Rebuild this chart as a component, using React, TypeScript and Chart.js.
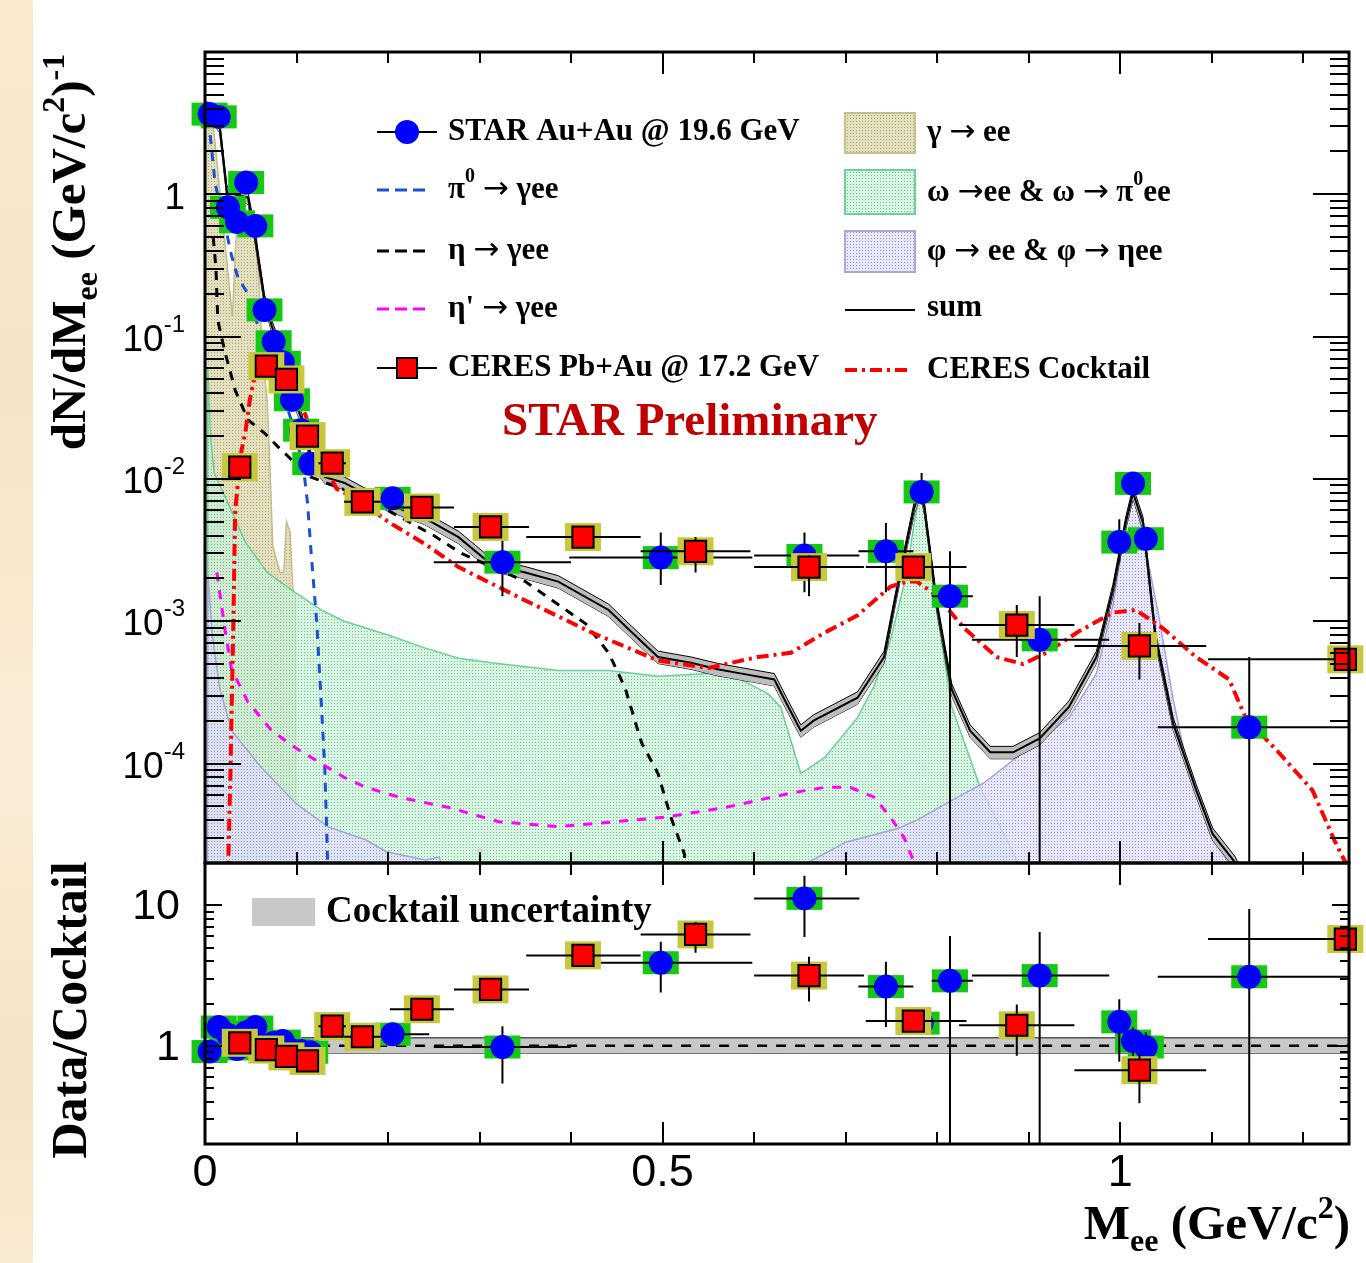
import { useEffect, useRef } from "react";
import { Chart, registerables } from "chart.js";

Chart.register(...registerables);

// ================= axis ranges =================
const massRange = [0, 1.25];
const yieldRange = [2e-5, 10];
const ratioRange = [0.2, 20];
const massTickLabels = [0, 0.5, 1];
const yieldTickExponents = [0, -1, -2, -3, -4];
const ratioTickLabels = [1, 10];

// ================= STAR Au+Au @ 19.6 GeV =================
const starMass = [0.005, 0.015, 0.025, 0.035, 0.045, 0.055, 0.065, 0.075, 0.085, 0.095, 0.105, 0.115, 0.205, 0.325, 0.498, 0.655, 0.744, 0.783, 0.814, 0.912, 0.999, 1.014, 1.028, 1.141];
const starMassErrLo = [0.005, 0.005, 0.005, 0.005, 0.005, 0.005, 0.005, 0.005, 0.005, 0.005, 0.005, 0.005, 0.04, 0.075, 0.1, 0.055, 0.03, 0.012, 0.02, 0.074, 0.007, 0.007, 0.007, 0.1];
const starMassErrHi = [0.005, 0.005, 0.005, 0.005, 0.005, 0.005, 0.005, 0.005, 0.005, 0.005, 0.005, 0.005, 0.04, 0.075, 0.1, 0.06, 0.03, 0.012, 0.025, 0.076, 0.007, 0.007, 0.007, 0.11];
const starYield = [3.66, 3.5, 0.81, 0.64, 1.21, 0.6, 0.154, 0.092, 0.066, 0.036, 0.022, 0.0128, 0.0073, 0.0026, 0.0028, 0.0029, 0.0031, 0.0081, 0.0015, 0.00074, 0.0036, 0.0093, 0.0038, 0.00018];
const starYieldLo = [3.3, 3.2, 0.74, 0.58, 1.1, 0.54, 0.14, 0.083, 0.059, 0.032, 0.0195, 0.0113, 0.0065, 0.0015, 0.0018, 0.0016, 0.0016, 0.0066, 0, 0, 0.0026, 0.0082, 0.0032, 0];
const starYieldHi = [4.0, 3.8, 0.88, 0.7, 1.32, 0.66, 0.17, 0.101, 0.073, 0.04, 0.0245, 0.0143, 0.0081, 0.0039, 0.0042, 0.0042, 0.0049, 0.011, 0.0031, 0.0015, 0.0052, 0.0105, 0.0045, 0.00056];
const starRatio = [0.91, 1.36, 1.2, 0.95, 1.25, 1.36, 1.0, 1.05, 1.08, 0.93, 0.92, 0.9, 1.21, 0.98, 3.9, 11.2, 2.64, 1.45, 2.9, 3.16, 1.48, 1.08, 0.98, 3.1];
const starRatioLo = [0.82, 1.22, 1.08, 0.86, 1.12, 1.22, 0.9, 0.95, 0.97, 0.84, 0.83, 0.81, 1.1, 0.54, 2.4, 5.95, 1.36, 1.2, 0, 0, 0.77, 0.85, 0.8, 0];
const starRatioHi = [1.0, 1.5, 1.32, 1.05, 1.38, 1.5, 1.1, 1.15, 1.19, 1.02, 1.01, 0.99, 1.33, 1.38, 5.5, 16.2, 3.97, 1.7, 6.05, 6.45, 2.14, 1.35, 1.25, 9.4];

// ================= CERES Pb+Au @ 17.2 GeV =================
const ceresMass = [0.038, 0.067, 0.089, 0.112, 0.139, 0.172, 0.237, 0.312, 0.413, 0.536, 0.66, 0.774, 0.887, 1.021, 1.246];
const ceresMassErrLo = [0.012, 0.01, 0.01, 0.01, 0.015, 0.02, 0.035, 0.04, 0.062, 0.06, 0.06, 0.052, 0.063, 0.071, 0.15];
const ceresMassErrHi = [0.012, 0.01, 0.01, 0.01, 0.015, 0.02, 0.035, 0.042, 0.063, 0.06, 0.06, 0.058, 0.063, 0.073, 0.15];
const ceresYield = [0.0121, 0.062, 0.05, 0.02, 0.0129, 0.0069, 0.0063, 0.0046, 0.0039, 0.0031, 0.0024, 0.0024, 0.00094, 0.00067, 0.00054];
const ceresYieldLo = [0.0105, 0.056, 0.045, 0.018, 0.0116, 0.0062, 0.0057, 0.0041, 0.0035, 0.0022, 0.0015, 0.0021, 0.00056, 0.00039, 0.00047];
const ceresYieldHi = [0.0137, 0.068, 0.055, 0.022, 0.0142, 0.0076, 0.0069, 0.0051, 0.0043, 0.0039, 0.0029, 0.0027, 0.0013, 0.00097, 0.00061];
const ceresRatio = [1.05, 0.94, 0.84, 0.78, 1.38, 1.16, 1.82, 2.52, 4.4, 6.2, 3.16, 1.5, 1.4, 0.67, 5.75];
const ceresRatioLo = [0.96, 0.86, 0.76, 0.71, 1.25, 1.05, 1.62, 2.3, 4.05, 4.6, 2.07, 1.3, 0.85, 0.39, 5.2];
const ceresRatioHi = [1.14, 1.02, 0.92, 0.85, 1.51, 1.27, 2.05, 2.75, 4.8, 7.6, 4.3, 1.75, 1.97, 0.87, 6.3];

// ================= cocktail components =================
const gammaMass = [0.0, 0.008, 0.011, 0.02, 0.03, 0.033, 0.036, 0.05, 0.056, 0.06, 0.063, 0.068, 0.071, 0.074, 0.082, 0.086, 0.089, 0.093, 0.096, 0.099, 0.1];
const gammaYield = [3.6, 3.4, 2.3, 0.6, 0.138, 0.4, 0.72, 0.72, 0.55, 0.18, 0.069, 0.036, 0.012, 0.0034, 0.0022, 0.0022, 0.005, 0.0042, 0.0017, 0.0015, 1e-6];

const omegaMass = [0.002, 0.003, 0.006, 0.01, 0.022, 0.044, 0.068, 0.098, 0.127, 0.152, 0.2, 0.24, 0.277, 0.313, 0.386, 0.441, 0.495, 0.55, 0.585, 0.615, 0.629, 0.651, 0.677, 0.713, 0.731, 0.749, 0.767, 0.775, 0.782, 0.79, 0.797, 0.816, 0.847, 0.875, 0.898, 0.905];
const omegaYield = [1e-6, 0.06, 0.02, 0.011, 0.0075, 0.0036, 0.0022, 0.0016, 0.0012, 0.001, 0.0008, 0.00065, 0.00055, 0.00051, 0.00045, 0.00045, 0.00041, 0.00043, 0.00039, 0.00031, 0.00025, 0.000085, 0.00011, 0.00021, 0.00035, 0.00074, 0.0022, 0.005, 0.0084, 0.004, 0.0015, 0.00025, 0.000068, 0.00003, 0.000015, 1e-6];

const phiMass = [0.002, 0.003, 0.008, 0.016, 0.029, 0.062, 0.1, 0.134, 0.176, 0.198, 0.241, 0.256, 0.265, 0.3, 0.64, 0.658, 0.7, 0.757, 0.778, 0.818, 0.851, 0.901, 0.944, 0.974, 0.992, 1.004, 1.014, 1.025, 1.042, 1.058, 1.075, 1.1, 1.119, 1.13];
const phiYield = [1e-6, 0.0022, 0.0008, 0.00034, 0.00017, 0.000093, 0.000052, 0.000036, 0.000029, 0.000024, 0.000021, 0.000022, 0.000012, 1e-6, 1e-6, 0.00002, 0.000028, 0.000035, 0.00004, 0.000056, 0.000073, 0.00013, 0.00021, 0.00043, 0.0013, 0.004, 0.0084, 0.004, 0.0011, 0.00028, 0.000085, 0.00003, 0.00002, 1e-6];

const pi0Mass = [0.002, 0.011, 0.022, 0.029, 0.036, 0.047, 0.054, 0.065, 0.08, 0.095, 0.105, 0.109, 0.112, 0.116, 0.122, 0.127, 0.131, 0.134, 0.135];
const pi0Yield = [4.5, 1.2, 0.6, 0.37, 0.26, 0.2, 0.14, 0.09, 0.05, 0.025, 0.014, 0.01, 0.0068, 0.003, 0.001, 0.00027, 0.00009, 0.00002, 1e-6];

const etaMass = [0.009, 0.012, 0.014, 0.022, 0.033, 0.047, 0.065, 0.079, 0.098, 0.116, 0.15, 0.2, 0.25, 0.28, 0.35, 0.416, 0.441, 0.459, 0.477, 0.495, 0.509, 0.524, 0.535];
const etaYield = [0.5, 0.3, 0.13, 0.077, 0.042, 0.026, 0.021, 0.017, 0.013, 0.0103, 0.0085, 0.006, 0.004, 0.003, 0.0019, 0.00096, 0.0006, 0.00034, 0.00014, 0.000085, 0.000042, 0.000023, 1e-6];

const etapMass = [0.013, 0.022, 0.029, 0.047, 0.073, 0.098, 0.127, 0.152, 0.176, 0.212, 0.267, 0.321, 0.386, 0.448, 0.503, 0.568, 0.64, 0.677, 0.705, 0.731, 0.749, 0.764, 0.775, 0.78];
const etapYield = [0.0022, 0.00086, 0.00046, 0.00027, 0.00017, 0.00013, 0.0001, 0.00008, 0.000068, 0.000058, 0.000049, 0.000039, 0.000036, 0.000039, 0.000042, 0.000049, 0.000062, 0.000068, 0.000068, 0.000058, 0.000042, 0.00003, 0.00002, 1e-6];

const sumMass = [0.005, 0.016, 0.024, 0.047, 0.054, 0.065, 0.073, 0.084, 0.095, 0.106, 0.116, 0.131, 0.152, 0.172, 0.2, 0.24, 0.277, 0.313, 0.35, 0.386, 0.441, 0.466, 0.495, 0.531, 0.56, 0.585, 0.622, 0.636, 0.651, 0.665, 0.713, 0.742, 0.76, 0.775, 0.782, 0.786, 0.8, 0.816, 0.836, 0.858, 0.883, 0.912, 0.944, 0.974, 0.992, 1.006, 1.014, 1.025, 1.039, 1.058, 1.083, 1.101, 1.126, 1.14];
const sumYield = [3.8, 3.0, 1.03, 0.95, 0.54, 0.18, 0.118, 0.077, 0.04, 0.026, 0.0137, 0.0103, 0.0094, 0.008, 0.0066, 0.0053, 0.0039, 0.0025, 0.0022, 0.0019, 0.0012, 0.00084, 0.00056, 0.00051, 0.00046, 0.00043, 0.00039, 0.00026, 0.00017, 0.0002, 0.00029, 0.00056, 0.0022, 0.0063, 0.0085, 0.0063, 0.00125, 0.00033, 0.00017, 0.00012, 0.00012, 0.00015, 0.00025, 0.00056, 0.00165, 0.0049, 0.008, 0.0049, 0.00074, 0.00019, 0.000065, 0.000032, 0.00002, 0.000012];
const sumRelUncertainty = 0.1;

const ceresCocktailMass = [0.025, 0.028, 0.031, 0.033, 0.036, 0.04, 0.044, 0.049, 0.054, 0.06, 0.07, 0.084, 0.095, 0.103, 0.11, 0.123, 0.138, 0.144, 0.17, 0.2, 0.24, 0.277, 0.35, 0.423, 0.495, 0.55, 0.604, 0.64, 0.677, 0.713, 0.749, 0.767, 0.778, 0.8, 0.829, 0.865, 0.894, 0.919, 0.955, 0.992, 1.017, 1.046, 1.083, 1.119, 1.137, 1.173, 1.21, 1.235, 1.25];
const ceresCocktailYield = [1.5e-5, 0.0001, 0.001, 0.006, 0.0094, 0.016, 0.021, 0.036, 0.052, 0.065, 0.072, 0.066, 0.045, 0.034, 0.028, 0.0137, 0.01, 0.0085, 0.007, 0.005, 0.0035, 0.0024, 0.0014, 0.00083, 0.00053, 0.00047, 0.00056, 0.0006, 0.00083, 0.0011, 0.00175, 0.0019, 0.0019, 0.0015, 0.0009, 0.00056, 0.0005, 0.0006, 0.00085, 0.00115, 0.0012, 0.0009, 0.00056, 0.00039, 0.00021, 0.00012, 0.000065, 0.000028, 0.000018];

// ratio panel: cocktail uncertainty band and unity reference
const ratioBandMass = [0.105, 0.68, 1.25];
const ratioBandHi = [1.14, 1.14, 1.14];
const ratioBandLo = [0.89, 0.885, 0.885];
const ratioRefMass = [0.105, 1.25];
const ratioRef = [1, 1];

// ================= styling / layout =================
const W = 1366;
const H = 1263;
const SERIF = '"Liberation Serif", "Times New Roman", Times, serif';
const SANS = '"Liberation Sans", Arial, Helvetica, sans-serif';
const ARROW = '"DejaVu Sans", sans-serif';
const STAR_BLUE = "#0000ff";
const STAR_SYS = "#16c816";
const CERES_RED = "#ff0000";
const CERES_SYS = "#c8c83c";
const PI0_BLUE = "#1a4fd6";
const MAGENTA = "#ff00ff";

type Run = { t: string; s?: "sup" | "sub"; f?: string; w?: string };

function drawRuns(ctx: any, runs: Run[], x: number, y: number, size: number, family: string, weight: string, color: string, align: "left" | "right" | "center") {
  ctx.save();
  ctx.fillStyle = color;
  ctx.textAlign = "left";
  const small = Math.round(size * 0.65);
  const fontOf = (r: Run) => `${r.w || weight} ${r.s ? small : size}px ${r.f || family}`;
  let total = 0;
  for (const r of runs) {
    ctx.font = fontOf(r);
    total += ctx.measureText(r.t).width;
  }
  let cx = align === "left" ? x : align === "right" ? x - total : x - total / 2;
  for (const r of runs) {
    ctx.font = fontOf(r);
    const dy = r.s === "sup" ? -size * 0.42 : r.s === "sub" ? size * 0.24 : 0;
    ctx.fillText(r.t, cx, y + dy);
    cx += ctx.measureText(r.t).width;
  }
  ctx.restore();
}

const arrow: Run = { t: "→", f: ARROW, w: "normal" };

function drawFrame(chart: any, o: { xMin: number; xMaj: number; yMin: number; yMaj: number }) {
  const { ctx, chartArea: a } = chart;
  const xs = chart.scales.x;
  const ys = chart.scales.y;
  ctx.save();
  ctx.strokeStyle = "#000";
  ctx.lineWidth = 2;
  ctx.beginPath();
  for (let k = 1; k * 0.1 < xs.max - 1e-9; k++) {
    const px = Math.round(xs.getPixelForValue(k * 0.1));
    const len = k % 5 === 0 ? o.xMaj : o.xMin;
    ctx.moveTo(px, a.bottom);
    ctx.lineTo(px, a.bottom - len);
    ctx.moveTo(px, a.top);
    ctx.lineTo(px, a.top + len);
  }
  const lmin = Math.floor(Math.log10(ys.min));
  const lmax = Math.ceil(Math.log10(ys.max));
  for (let d = lmin; d <= lmax; d++) {
    for (let m = 1; m <= 9; m++) {
      const v = m * Math.pow(10, d);
      if (v <= ys.min * 1.0001 || v >= ys.max * 0.9999) continue;
      const py = Math.round(ys.getPixelForValue(v));
      const len = m === 1 ? o.yMaj : o.yMin;
      ctx.moveTo(a.left, py);
      ctx.lineTo(a.left + len, py);
      ctx.moveTo(a.right, py);
      ctx.lineTo(a.right - len, py);
    }
  }
  ctx.stroke();
  ctx.lineWidth = 3;
  ctx.strokeRect(a.left, a.top, a.right - a.left, a.bottom - a.top);
  ctx.restore();
}

const errorBarPlugin = {
  id: "rootErrorBars",
  beforeDatasetDraw(chart: any, args: any) {
    const ds = chart.data.datasets[args.index];
    const e = ds && ds.errorBars;
    if (!e) return;
    const { ctx, chartArea: a } = chart;
    const xs = chart.scales.x;
    const ys = chart.scales.y;
    const cx = (p: number) => Math.max(a.left, Math.min(a.right, p));
    const cy = (p: number) => Math.max(a.top, Math.min(a.bottom, p));
    const yPix = (v: number) => (v > 0 ? ys.getPixelForValue(v) : a.bottom);
    ctx.save();
    ctx.fillStyle = e.boxColor;
    for (let i = 0; i < e.x.length; i++) {
      const px = xs.getPixelForValue(e.x[i]);
      const py = ys.getPixelForValue(e.y[i]);
      ctx.fillRect(px - e.boxW / 2, py - e.boxH / 2, e.boxW, e.boxH);
    }
    ctx.strokeStyle = "#000";
    ctx.lineWidth = 2;
    ctx.beginPath();
    for (let i = 0; i < e.x.length; i++) {
      const px = xs.getPixelForValue(e.x[i]);
      const py = ys.getPixelForValue(e.y[i]);
      ctx.moveTo(cx(xs.getPixelForValue(e.x[i] - e.xLo[i])), py);
      ctx.lineTo(cx(xs.getPixelForValue(e.x[i] + e.xHi[i])), py);
      ctx.moveTo(px, cy(yPix(e.yLo[i])));
      ctx.lineTo(px, cy(yPix(e.yHi[i])));
    }
    ctx.stroke();
    ctx.restore();
  },
};

const pts = (xs: number[], ys: number[]) => xs.map((x, i) => ({ x, y: ys[i] }));

const curve = (label: string, xs: number[], ys: number[], color: string, width: number, dash: number[], order: number, extra: any = {}) => ({
  label,
  data: pts(xs, ys),
  borderColor: color,
  borderWidth: width,
  borderDash: dash,
  pointRadius: 0,
  fill: false,
  tension: 0,
  order,
  ...extra,
});

const baseOptions = (yMin: number, yMax: number, padding: any) => ({
  responsive: false,
  animation: false,
  devicePixelRatio: 1,
  events: [],
  layout: { padding },
  plugins: {
    legend: { display: false },
    tooltip: { enabled: false },
    title: { display: false },
    filler: { propagate: false },
  },
  scales: {
    x: { type: "linear", min: massRange[0], max: massRange[1], display: false },
    y: { type: "logarithmic", min: yMin, max: yMax, display: false },
  },
});

export default function App() {
  const topRef = useRef<HTMLCanvasElement>(null);
  const botRef = useRef<HTMLCanvasElement>(null);

  useEffect(() => {
    const topCanvas = topRef.current!;
    const botCanvas = botRef.current!;
    const tctx = topCanvas.getContext("2d")!;
    const makePattern = (bg: string, dot: string) => {
      const tile = document.createElement("canvas");
      tile.width = 3;
      tile.height = 3;
      const g = tile.getContext("2d")!;
      g.fillStyle = bg;
      g.fillRect(0, 0, 3, 3);
      g.fillStyle = dot;
      g.fillRect(1, 1, 1, 1);
      return tctx.createPattern(tile, "repeat")!;
    };
    const gammaPat = makePattern("rgba(224,220,186,0.95)", "#aea873");
    const omegaPat = makePattern("rgba(204,240,218,0.72)", "#68c690");
    const phiPat = makePattern("rgba(224,224,246,0.78)", "#9696d6");

    const sumUp = sumYield.map((v) => v * (1 + sumRelUncertainty));
    const sumDown = sumYield.map((v) => v * (1 - sumRelUncertainty));

    const topDecor = {
      id: "topDecor",
      afterDraw(chart: any) {
        const ctx = chart.ctx;
        drawFrame(chart, { xMin: 11, xMaj: 22, yMin: 19, yMaj: 36 });
        const ys = chart.scales.y;
        ctx.save();
        ctx.textBaseline = "middle";
        for (const d of yieldTickExponents) {
          const py = ys.getPixelForValue(Math.pow(10, d));
          const runs: Run[] = d === 0 ? [{ t: "1" }] : [{ t: "10" }, { t: String(d), s: "sup" }];
          drawRuns(ctx, runs, 185, py + 4, 37, SANS, "normal", "#000", "right");
        }
        ctx.restore();
        // y title
        ctx.save();
        ctx.textBaseline = "alphabetic";
        ctx.translate(85, 252);
        ctx.rotate(-Math.PI / 2);
        drawRuns(ctx, [{ t: "dN/dM" }, { t: "ee", s: "sub" }, { t: " (GeV/c" }, { t: "2", s: "sup" }, { t: ")" }, { t: "-1", s: "sup" }], 0, 0, 49, SERIF, "bold", "#000", "center");
        ctx.restore();

        // legend (left column)
        ctx.save();
        ctx.textBaseline = "middle";
        const LF = 31;
        ctx.strokeStyle = "#000";
        ctx.lineWidth = 2;
        ctx.beginPath();
        ctx.moveTo(377, 132); ctx.lineTo(437, 132);
        ctx.moveTo(377, 368); ctx.lineTo(437, 368);
        ctx.stroke();
        ctx.fillStyle = STAR_BLUE;
        ctx.beginPath();
        ctx.arc(407, 132, 12, 0, Math.PI * 2);
        ctx.fill();
        ctx.fillStyle = CERES_RED;
        ctx.fillRect(397, 358, 20, 20);
        ctx.strokeRect(397, 358, 20, 20);
        const dashed = (y: number, color: string) => {
          ctx.save();
          ctx.strokeStyle = color;
          ctx.lineWidth = 3;
          ctx.setLineDash([12, 6]);
          ctx.beginPath();
          ctx.moveTo(377, y);
          ctx.lineTo(425, y);
          ctx.stroke();
          ctx.restore();
        };
        dashed(190, PI0_BLUE);
        dashed(251, "#000");
        dashed(309, MAGENTA);
        drawRuns(ctx, [{ t: "STAR Au+Au @ 19.6 GeV" }], 448, 132, LF, SERIF, "bold", "#000", "left");
        drawRuns(ctx, [{ t: "π" }, { t: "0", s: "sup" }, { t: " " }, arrow, { t: " γee" }], 448, 190, LF, SERIF, "bold", "#000", "left");
        drawRuns(ctx, [{ t: "η " }, arrow, { t: " γee" }], 448, 251, LF, SERIF, "bold", "#000", "left");
        drawRuns(ctx, [{ t: "η' " }, arrow, { t: " γee" }], 448, 309, LF, SERIF, "bold", "#000", "left");
        drawRuns(ctx, [{ t: "CERES Pb+Au @ 17.2 GeV" }], 448, 368, LF, SERIF, "bold", "#000", "left");

        // legend (right column)
        const box = (y0: number, y1: number, pat: any, border: string) => {
          ctx.fillStyle = pat;
          ctx.fillRect(845, y0, 70, y1 - y0);
          ctx.strokeStyle = border;
          ctx.lineWidth = 2;
          ctx.strokeRect(845, y0, 70, y1 - y0);
        };
        box(113, 153, gammaPat, "#c6c08e");
        box(170, 214, omegaPat, "#72cf9c");
        box(231, 272, phiPat, "#a8a8dc");
        ctx.strokeStyle = "#000";
        ctx.lineWidth = 2;
        ctx.beginPath();
        ctx.moveTo(845, 310); ctx.lineTo(915, 310);
        ctx.stroke();
        ctx.save();
        ctx.strokeStyle = CERES_RED;
        ctx.lineWidth = 4;
        ctx.setLineDash([12, 5, 3, 5]);
        ctx.beginPath();
        ctx.moveTo(845, 370); ctx.lineTo(910, 370);
        ctx.stroke();
        ctx.restore();
        drawRuns(ctx, [{ t: "γ " }, arrow, { t: " ee" }], 927, 133, LF, SERIF, "bold", "#000", "left");
        drawRuns(ctx, [{ t: "ω " }, arrow, { t: "ee & ω " }, arrow, { t: " π" }, { t: "0", s: "sup" }, { t: "ee" }], 927, 193, LF, SERIF, "bold", "#000", "left");
        drawRuns(ctx, [{ t: "φ " }, arrow, { t: " ee & φ " }, arrow, { t: " ηee" }], 927, 252, LF, SERIF, "bold", "#000", "left");
        drawRuns(ctx, [{ t: "sum" }], 927, 308, LF, SERIF, "bold", "#000", "left");
        drawRuns(ctx, [{ t: "CERES Cocktail" }], 927, 370, LF, SERIF, "bold", "#000", "left");
        drawRuns(ctx, [{ t: "STAR Preliminary" }], 502, 423, 47, SERIF, "bold", "#c00000", "left");
        ctx.restore();
      },
    };

    const botDecor = {
      id: "botDecor",
      afterDraw(chart: any) {
        const ctx = chart.ctx;
        drawFrame(chart, { xMin: 12, xMaj: 22, yMin: 9, yMaj: 17 });
        const ys = chart.scales.y;
        const xs = chart.scales.x;
        ctx.save();
        ctx.textBaseline = "middle";
        for (const v of ratioTickLabels) {
          drawRuns(ctx, [{ t: String(v) }], 180, ys.getPixelForValue(v) + 2, 43, SANS, "normal", "#000", "right");
        }
        for (const v of massTickLabels) {
          drawRuns(ctx, [{ t: String(v) }], xs.getPixelForValue(v), 1174, 45, SANS, "normal", "#000", "center");
        }
        // cocktail uncertainty legend
        ctx.fillStyle = "#c8c8c8";
        ctx.fillRect(252, 898, 63, 28);
        drawRuns(ctx, [{ t: "Cocktail uncertainty" }], 326, 912, 37, SERIF, "bold", "#000", "left");
        ctx.restore();

        ctx.save();
        ctx.textBaseline = "alphabetic";
        ctx.translate(86, 1010);
        ctx.rotate(-Math.PI / 2);
        drawRuns(ctx, [{ t: "Data/Cocktail" }], 0, 0, 50, SERIF, "bold", "#000", "center");
        ctx.restore();

        ctx.save();
        ctx.textBaseline = "alphabetic";
        drawRuns(ctx, [{ t: "M" }, { t: "ee", s: "sub" }, { t: " (GeV/c" }, { t: "2", s: "sup" }, { t: ")" }], 1350, 1239, 49, SERIF, "bold", "#000", "right");
        ctx.restore();
      },
    };

    const top = new Chart(topCanvas, {
      type: "line",
      data: {
        datasets: [
          {
            label: "CERES Pb+Au @ 17.2 GeV",
            data: pts(ceresMass, ceresYield),
            showLine: false,
            pointStyle: "rect",
            pointRadius: 15,
            pointBackgroundColor: CERES_RED,
            pointBorderColor: "#000",
            pointBorderWidth: 2,
            clip: false,
            order: 0,
            errorBars: { x: ceresMass, y: ceresYield, xLo: ceresMassErrLo, xHi: ceresMassErrHi, yLo: ceresYieldLo, yHi: ceresYieldHi, boxColor: CERES_SYS, boxW: 36, boxH: 28 },
          },
          {
            label: "STAR Au+Au @ 19.6 GeV",
            data: pts(starMass, starYield),
            showLine: false,
            pointStyle: "circle",
            pointRadius: 12,
            pointBackgroundColor: STAR_BLUE,
            pointBorderWidth: 0,
            clip: false,
            order: 1,
            errorBars: { x: starMass, y: starYield, xLo: starMassErrLo, xHi: starMassErrHi, yLo: starYieldLo, yHi: starYieldHi, boxColor: STAR_SYS, boxW: 36, boxH: 23 },
          },
          curve("CERES Cocktail", ceresCocktailMass, ceresCocktailYield, CERES_RED, 4, [12, 5, 3, 5], 2),
          curve("η' → γee", etapMass, etapYield, MAGENTA, 3, [9, 9], 3),
          curve("η → γee", etaMass, etaYield, "#000", 3, [9, 8], 4),
          curve("π0 → γee", pi0Mass, pi0Yield, PI0_BLUE, 3, [9, 8], 5),
          curve("sum", sumMass, sumYield, "#000", 2, [], 6),
          curve("sum upper", sumMass, sumUp, "#000", 1, [], 7, { fill: "+1", backgroundColor: "#bdbdbd" }),
          curve("sum lower", sumMass, sumDown, "#000", 1, [], 8),
          curve("φ → ee & φ → ηee", phiMass, phiYield, "#a4a4da", 1.5, [], 9, { fill: "start", backgroundColor: phiPat }),
          curve("ω →ee & ω → π0ee", omegaMass, omegaYield, "#6ccf9a", 1.5, [], 10, { fill: "start", backgroundColor: omegaPat }),
          curve("γ → ee", gammaMass, gammaYield, "#c3bd8c", 1.5, [], 11, { fill: "start", backgroundColor: gammaPat }),
        ],
      },
      options: baseOptions(yieldRange[0], yieldRange[1], { left: 205, top: 52, right: W - 1350, bottom: H - 863 }) as any,
      plugins: [errorBarPlugin, topDecor],
    } as any);

    const bot = new Chart(botCanvas, {
      type: "line",
      data: {
        datasets: [
          {
            label: "CERES ratio",
            data: pts(ceresMass, ceresRatio),
            showLine: false,
            pointStyle: "rect",
            pointRadius: 15,
            pointBackgroundColor: CERES_RED,
            pointBorderColor: "#000",
            pointBorderWidth: 2,
            clip: false,
            order: 0,
            errorBars: { x: ceresMass, y: ceresRatio, xLo: ceresMassErrLo, xHi: ceresMassErrHi, yLo: ceresRatioLo, yHi: ceresRatioHi, boxColor: CERES_SYS, boxW: 36, boxH: 28 },
          },
          {
            label: "STAR ratio",
            data: pts(starMass, starRatio),
            showLine: false,
            pointStyle: "circle",
            pointRadius: 12,
            pointBackgroundColor: STAR_BLUE,
            pointBorderWidth: 0,
            clip: false,
            order: 1,
            errorBars: { x: starMass, y: starRatio, xLo: starMassErrLo, xHi: starMassErrHi, yLo: starRatioLo, yHi: starRatioHi, boxColor: STAR_SYS, boxW: 36, boxH: 23 },
          },
          curve("unity", ratioRefMass, ratioRef, "#000", 2.5, [10, 9], 2),
          curve("band upper", ratioBandMass, ratioBandHi, "#555", 1.5, [], 3, { fill: "+1", backgroundColor: "#c8c8c8" }),
          curve("band lower", ratioBandMass, ratioBandLo, "#555", 1.5, [], 4),
        ],
      },
      options: baseOptions(ratioRange[0], ratioRange[1], { left: 205, top: 863, right: W - 1350, bottom: H - 1144 }) as any,
      plugins: [errorBarPlugin, botDecor],
    } as any);

    return () => {
      top.destroy();
      bot.destroy();
    };
  }, []);

  return (
    <div style={{ position: "absolute", left: 0, top: 0, width: W, height: H, background: "#fff", overflow: "hidden" }}>
      <div
        style={{
          position: "absolute",
          left: 0,
          top: 0,
          width: 33,
          height: H,
          background: "linear-gradient(180deg, #f9ead0 0%, #f6e4c6 30%, #faedd6 60%, #f5e3c4 85%, #f9ebd2 100%)",
        }}
      />
      <canvas ref={topRef} width={W} height={H} style={{ position: "absolute", left: 0, top: 0 }} />
      <canvas ref={botRef} width={W} height={H} style={{ position: "absolute", left: 0, top: 0 }} />
    </div>
  );
}
